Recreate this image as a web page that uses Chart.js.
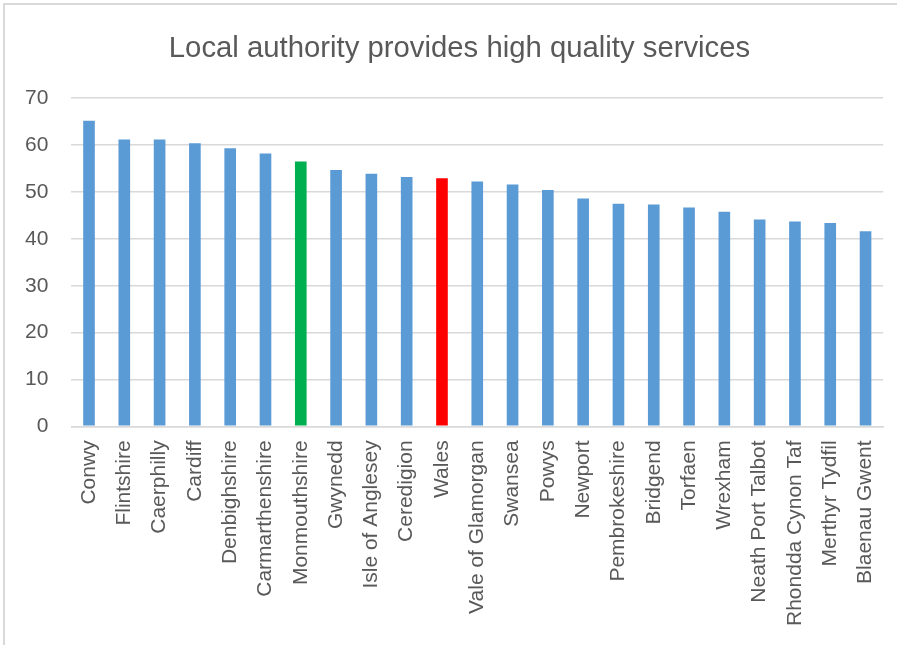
<!DOCTYPE html>
<html>
<head>
<meta charset="utf-8">
<script src="https://cdn.jsdelivr.net/npm/chart.js@4.4.0/dist/chart.umd.min.js"></script>
<style>
html,body{margin:0;padding:0;background:#fff;}
#wrap{position:relative;width:897px;height:645px;}
#frame{position:absolute;left:3px;top:3px;width:900px;height:700px;border-top:2px solid #d9d9d9;border-left:2px solid #d9d9d9;pointer-events:none;}
canvas{position:absolute;left:0;top:0;}
</style>
</head>
<body>
<div id="wrap">
<canvas id="c" width="897" height="645"></canvas>
<div id="frame"></div>
</div>
<script>
const categories = ["Conwy","Flintshire","Caerphilly","Cardiff","Denbighshire","Carmarthenshire","Monmouthshire","Gwynedd","Isle of Anglesey","Ceredigion","Wales","Vale of Glamorgan","Swansea","Powys","Newport","Pembrokeshire","Bridgend","Torfaen","Wrexham","Neath Port Talbot","Rhondda Cynon Taf","Merthyr Tydfil","Blaenau Gwent"];
const values = [65.2,61.2,61.2,60.4,59.3,58.2,56.5,54.7,53.9,53.2,52.9,52.2,51.6,50.4,48.6,47.5,47.3,46.7,45.8,44.1,43.7,43.4,41.6];
const yTicks = [0,10,20,30,40,50,60,70];
const titleText = "Local authority provides high quality services";

const barColors = categories.map(c => c === "Monmouthshire" ? "#00b050" : (c === "Wales" ? "#ff0000" : "#5b9bd5"));
const FONT = "'Liberation Sans', Arial, sans-serif";

const shiftTitle = {
  id: 'shiftTitle',
  afterLayout(chart) {
    const t = chart.titleBlock;
    if (t) { t.left += 16; t.right += 16; }
  }
};

new Chart(document.getElementById('c'), {
  type: 'bar',
  data: {
    labels: categories,
    datasets: [{
      data: values,
      backgroundColor: barColors,
      borderWidth: 0,
      categoryPercentage: 1.0,
      barPercentage: 0.33
    }]
  },
  plugins: [shiftTitle],
  options: {
    responsive: false,
    animation: false,
    layout: { padding: { left: 2, right: 12, top: 31, bottom: 13 } },
    plugins: {
      legend: { display: false },
      tooltip: { enabled: false },
      title: {
        display: true,
        text: titleText,
        color: '#595959',
        font: { family: FONT, size: 29.3, weight: 'normal' },
        padding: { top: 0, bottom: 32 }
      }
    },
    scales: {
      y: {
        min: 0, max: 70,
        afterBuildTicks: s => { s.ticks = yTicks.map(v => ({ value: v })); },
        ticks: { color: '#595959', font: { family: FONT, size: 21 }, padding: 23 },
        grid: { color: '#d9d9d9', lineWidth: 1.5, drawTicks: false },
        border: { display: false }
      },
      x: {
        ticks: { color: '#595959', font: { family: FONT, size: 21 }, minRotation: 90, maxRotation: 90, autoSkip: false, padding: 6 },
        grid: { display: false },
        border: { display: true, color: '#d9d9d9', width: 1.5 }
      }
    }
  }
});
</script>
</body>
</html>
